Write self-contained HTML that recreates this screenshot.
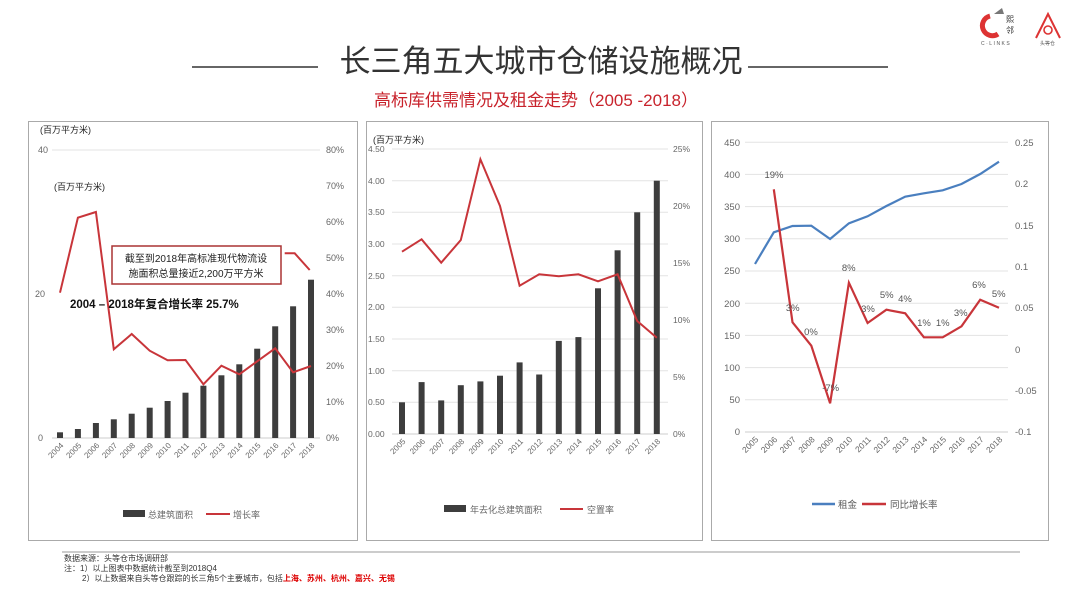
<!DOCTYPE html><html><head><meta charset="utf-8"><style>
body{margin:0;background:#fff;width:1080px;height:607px;overflow:hidden;font-family:"Liberation Sans","Noto Sans CJK SC",sans-serif}
svg text{font-family:"Liberation Sans","Noto Sans CJK SC",sans-serif}
</style></head><body>
<svg width="1080" height="607" viewBox="0 0 1080 607" xmlns="http://www.w3.org/2000/svg">
<!-- logos -->
<path d="M990 16 a10 10 0 1 0 8 18" fill="none" stroke="#d33" stroke-width="5"/>
<path d="M994 14 l8 -6 l2 6z" fill="#777"/>
<text x="1006" y="22" font-size="8" fill="#333">熙</text><text x="1006" y="33" font-size="8" fill="#333">邻</text>
<text x="981" y="45" font-size="5" fill="#555" letter-spacing="1.5">C·LINKS</text>
<path d="M1036 38 L1048 14 L1060 38" fill="none" stroke="#d33" stroke-width="2"/>
<circle cx="1048" cy="30" r="4" fill="none" stroke="#d33" stroke-width="1.6"/>
<text x="1040" y="45" font-size="5" fill="#555">头等仓</text>
<!-- title -->
<line x1="192" y1="67" x2="318" y2="67" stroke="#333" stroke-width="1.5"/>
<line x1="748" y1="67" x2="888" y2="67" stroke="#333" stroke-width="1.5"/>
<text x="541" y="72" font-size="31" fill="#333" text-anchor="middle">长三角五大城市仓储设施概况</text>
<text x="536" y="106" font-size="17" fill="#c8232c" text-anchor="middle">高标库供需情况及租金走势（2005 -2018）</text>
<!-- panels -->
<rect x="28.5" y="121.5" width="329" height="419" fill="none" stroke="#aaa"/>
<rect x="366.5" y="121.5" width="336" height="419" fill="none" stroke="#aaa"/>
<rect x="711.5" y="121.5" width="337" height="419" fill="none" stroke="#aaa"/>

<!-- chart 1 -->
<g font-size="9" fill="#666">
<text x="40" y="133" fill="#222">(百万平方米)</text>
<text x="54" y="190" fill="#222">(百万平方米)</text>
<text x="38" y="153">40</text><text x="35" y="297">20</text><text x="38" y="441">0</text>
<text x="326" y="153">80%</text><text x="326" y="189">70%</text><text x="326" y="225">60%</text><text x="326" y="261">50%</text><text x="326" y="297">40%</text><text x="326" y="333">30%</text><text x="326" y="369">20%</text><text x="326" y="405">10%</text><text x="326" y="441">0%</text>
</g>
<line x1="52" y1="150" x2="320" y2="150" stroke="#e3e3e3"/>
<line x1="52" y1="438" x2="320" y2="438" stroke="#ccc"/>
<g fill="#3d3d3d">
<rect x="57" y="432.3" width="6" height="5.7"/><rect x="74.9" y="429" width="6" height="9"/><rect x="92.9" y="423" width="6" height="15"/><rect x="110.8" y="419.3" width="6" height="18.7"/><rect x="128.7" y="413.7" width="6" height="24.3"/><rect x="146.7" y="407.7" width="6" height="30.3"/><rect x="164.6" y="401" width="6" height="37"/><rect x="182.5" y="392.7" width="6" height="45.3"/><rect x="200.4" y="385.7" width="6" height="52.3"/><rect x="218.4" y="375.3" width="6" height="62.7"/><rect x="236.3" y="364.3" width="6" height="73.7"/><rect x="254.2" y="348.7" width="6" height="89.3"/><rect x="272.2" y="326.3" width="6" height="111.7"/><rect x="290.1" y="306.3" width="6" height="131.7"/><rect x="308" y="279.7" width="6" height="158.3"/>
</g>
<polyline fill="none" stroke="#c8353a" stroke-width="2" points="60,292.7 77.9,217.7 95.9,212 113.8,349.3 131.7,334 149.7,350.7 167.6,360.3 185.5,360 203.4,384.3 221.4,365.7 239.3,374.3 257.2,361.3 275.2,348.3 293.1,372.3 311,366"/>
<polyline fill="none" stroke="#c8353a" stroke-width="2" points="284.7,253.3 294.7,253.3 309.7,270"/>
<rect x="112" y="246" width="169" height="38" fill="#fff" stroke="#a33" stroke-width="1.5"/>
<text x="196" y="262" font-size="10" fill="#222" text-anchor="middle">截至到2018年高标准现代物流设</text>
<text x="196" y="277" font-size="10" fill="#222" text-anchor="middle">施面积总量接近2,200万平方米</text>
<text x="70" y="308" font-size="11.5" font-weight="bold" fill="#111">2004 – 2018年复合增长率  25.7%</text>
<g font-size="8" fill="#666" text-anchor="end">
<text transform="translate(64,446) rotate(-45)">2004</text><text transform="translate(81.9,446) rotate(-45)">2005</text><text transform="translate(99.9,446) rotate(-45)">2006</text><text transform="translate(117.8,446) rotate(-45)">2007</text><text transform="translate(135.7,446) rotate(-45)">2008</text><text transform="translate(153.7,446) rotate(-45)">2009</text><text transform="translate(171.6,446) rotate(-45)">2010</text><text transform="translate(189.5,446) rotate(-45)">2011</text><text transform="translate(207.4,446) rotate(-45)">2012</text><text transform="translate(225.4,446) rotate(-45)">2013</text><text transform="translate(243.3,446) rotate(-45)">2014</text><text transform="translate(261.2,446) rotate(-45)">2015</text><text transform="translate(279.2,446) rotate(-45)">2016</text><text transform="translate(297.1,446) rotate(-45)">2017</text><text transform="translate(315,446) rotate(-45)">2018</text>
</g>
<rect x="123" y="510" width="22" height="7" fill="#3d3d3d"/><text x="148" y="518" font-size="9" fill="#666">总建筑面积</text>
<line x1="206" y1="514" x2="230" y2="514" stroke="#c8353a" stroke-width="2"/><text x="233" y="518" font-size="9" fill="#666">增长率</text>

<!-- chart 2 -->
<g stroke="#e3e3e3"><line x1="392" y1="149" x2="668" y2="149"/><line x1="392" y1="180.7" x2="668" y2="180.7"/><line x1="392" y1="212.3" x2="668" y2="212.3"/><line x1="392" y1="244" x2="668" y2="244"/><line x1="392" y1="275.7" x2="668" y2="275.7"/><line x1="392" y1="307.3" x2="668" y2="307.3"/><line x1="392" y1="339" x2="668" y2="339"/><line x1="392" y1="370.7" x2="668" y2="370.7"/><line x1="392" y1="402.3" x2="668" y2="402.3"/><line x1="392" y1="434" x2="668" y2="434" stroke="#ccc"/></g>
<text x="373" y="143" font-size="9" fill="#222">(百万平方米)</text>
<g font-size="8.5" fill="#666"><text x="368" y="152">4.50</text><text x="368" y="184">4.00</text><text x="368" y="215">3.50</text><text x="368" y="247">3.00</text><text x="368" y="279">2.50</text><text x="368" y="310">2.00</text><text x="368" y="342">1.50</text><text x="368" y="374">1.00</text><text x="368" y="405">0.50</text><text x="368" y="437">0.00</text>
<text x="673" y="152">25%</text><text x="673" y="209">20%</text><text x="673" y="266">15%</text><text x="673" y="323">10%</text><text x="673" y="380">5%</text><text x="673" y="437">0%</text></g>
<g fill="#3d3d3d">
<rect x="399" y="402.3" width="6" height="31.7"/><rect x="418.6" y="382.1" width="6" height="51.9"/><rect x="438.2" y="400.4" width="6" height="33.6"/><rect x="457.8" y="385.2" width="6" height="48.8"/><rect x="477.4" y="381.4" width="6" height="52.6"/><rect x="497" y="375.7" width="6" height="58.3"/><rect x="516.6" y="362.4" width="6" height="71.6"/><rect x="536.2" y="374.5" width="6" height="59.5"/><rect x="555.8" y="340.9" width="6" height="93.1"/><rect x="575.4" y="337.1" width="6" height="96.9"/><rect x="595" y="288.3" width="6" height="145.7"/><rect x="614.6" y="250.3" width="6" height="183.7"/><rect x="634.2" y="212.3" width="6" height="221.7"/><rect x="653.8" y="180.7" width="6" height="253.3"/>
</g>
<polyline fill="none" stroke="#c8353a" stroke-width="2" points="402,251.7 421.6,239.3 441.2,262.7 460.8,240 480.4,159.3 500,206 519.6,285.7 539.2,274.3 558.8,276.3 578.4,274.3 598,281.3 617.6,274.3 637.2,321 656.8,337.7"/>
<g font-size="8" fill="#666" text-anchor="end">
<text transform="translate(406,442) rotate(-45)">2005</text><text transform="translate(425.6,442) rotate(-45)">2006</text><text transform="translate(445.2,442) rotate(-45)">2007</text><text transform="translate(464.8,442) rotate(-45)">2008</text><text transform="translate(484.4,442) rotate(-45)">2009</text><text transform="translate(504,442) rotate(-45)">2010</text><text transform="translate(523.6,442) rotate(-45)">2011</text><text transform="translate(543.2,442) rotate(-45)">2012</text><text transform="translate(562.8,442) rotate(-45)">2013</text><text transform="translate(582.4,442) rotate(-45)">2014</text><text transform="translate(602,442) rotate(-45)">2015</text><text transform="translate(621.6,442) rotate(-45)">2016</text><text transform="translate(641.2,442) rotate(-45)">2017</text><text transform="translate(660.8,442) rotate(-45)">2018</text>
</g>
<rect x="444" y="505" width="22" height="7" fill="#3d3d3d"/><text x="470" y="513" font-size="9" fill="#666">年去化总建筑面积</text>
<line x1="560" y1="509" x2="583" y2="509" stroke="#c8353a" stroke-width="2"/><text x="587" y="513" font-size="9" fill="#666">空置率</text>

<!-- chart 3 -->
<g stroke="#e3e3e3"><line x1="745" y1="142.2" x2="1008" y2="142.2"/><line x1="745" y1="174.4" x2="1008" y2="174.4"/><line x1="745" y1="206.6" x2="1008" y2="206.6"/><line x1="745" y1="238.8" x2="1008" y2="238.8"/><line x1="745" y1="271" x2="1008" y2="271"/><line x1="745" y1="303.2" x2="1008" y2="303.2"/><line x1="745" y1="335.4" x2="1008" y2="335.4"/><line x1="745" y1="367.6" x2="1008" y2="367.6"/><line x1="745" y1="399.8" x2="1008" y2="399.8"/><line x1="745" y1="432" x2="1008" y2="432" stroke="#ccc"/></g>
<g font-size="9.5" fill="#666" text-anchor="end"><text x="740" y="146">450</text><text x="740" y="178">400</text><text x="740" y="210">350</text><text x="740" y="242">300</text><text x="740" y="274">250</text><text x="740" y="307">200</text><text x="740" y="339">150</text><text x="740" y="371">100</text><text x="740" y="403">50</text><text x="740" y="435">0</text></g>
<g font-size="9.5" fill="#666"><text x="1015" y="146">0.25</text><text x="1015" y="187">0.2</text><text x="1015" y="229">0.15</text><text x="1015" y="270">0.1</text><text x="1015" y="311">0.05</text><text x="1015" y="353">0</text><text x="1015" y="394">-0.05</text><text x="1015" y="435">-0.1</text></g>
<polyline fill="none" stroke="#4a7fbf" stroke-width="2.2" points="755,264 773.8,232.3 792.5,226 811.3,225.7 830.1,239 848.9,223.3 867.6,216.3 886.4,206 905.2,196.7 923.9,193.3 942.7,190.3 961.5,184 980.2,174 999,161.7"/>
<polyline fill="none" stroke="#c8353a" stroke-width="2.2" points="773.8,189.3 792.5,322.3 811.3,345.7 830.1,403.3 848.9,282.7 867.6,323 886.4,309.7 905.2,313.3 923.9,337.3 942.7,337.3 961.5,326.3 980.2,299.7 999,307.7"/>
<g font-size="9.5" fill="#555" text-anchor="middle">
<text x="774" y="178">19%</text><text x="792.7" y="311">3%</text><text x="811" y="335">0%</text><text x="830.7" y="391">-7%</text><text x="848.7" y="271">8%</text><text x="868" y="312">3%</text><text x="886.7" y="298">5%</text><text x="905" y="302">4%</text><text x="924" y="326">1%</text><text x="942.7" y="326">1%</text><text x="960.7" y="316">3%</text><text x="979" y="288">6%</text><text x="998.7" y="297">5%</text>
</g>
<g font-size="8.5" fill="#666" text-anchor="end">
<text transform="translate(759,440) rotate(-45)">2005</text><text transform="translate(777.8,440) rotate(-45)">2006</text><text transform="translate(796.5,440) rotate(-45)">2007</text><text transform="translate(815.3,440) rotate(-45)">2008</text><text transform="translate(834.1,440) rotate(-45)">2009</text><text transform="translate(852.9,440) rotate(-45)">2010</text><text transform="translate(871.6,440) rotate(-45)">2011</text><text transform="translate(890.4,440) rotate(-45)">2012</text><text transform="translate(909.2,440) rotate(-45)">2013</text><text transform="translate(927.9,440) rotate(-45)">2014</text><text transform="translate(946.7,440) rotate(-45)">2015</text><text transform="translate(965.5,440) rotate(-45)">2016</text><text transform="translate(984.2,440) rotate(-45)">2017</text><text transform="translate(1003,440) rotate(-45)">2018</text>
</g>
<line x1="812" y1="504" x2="835" y2="504" stroke="#4a7fbf" stroke-width="2.5"/><text x="838" y="508" font-size="9.5" fill="#555">租金</text>
<line x1="862" y1="504" x2="886" y2="504" stroke="#c8353a" stroke-width="2.5"/><text x="890" y="508" font-size="9.5" fill="#555">同比增长率</text>

<!-- footer -->
<line x1="62" y1="552" x2="1020" y2="552" stroke="#999"/>
<g font-size="8" fill="#333">
<text x="64" y="561">数据来源：头等仓市场调研部</text>
<text x="64" y="571">注：1）以上图表中数据统计截至到2018Q4</text>
<text x="82" y="581">2）以上数据来自头等仓跟踪的长三角5个主要城市，包括<tspan fill="#d00" font-weight="bold">上海、苏州、杭州、嘉兴、无锡</tspan></text>
</g>
</svg>
</body></html>
